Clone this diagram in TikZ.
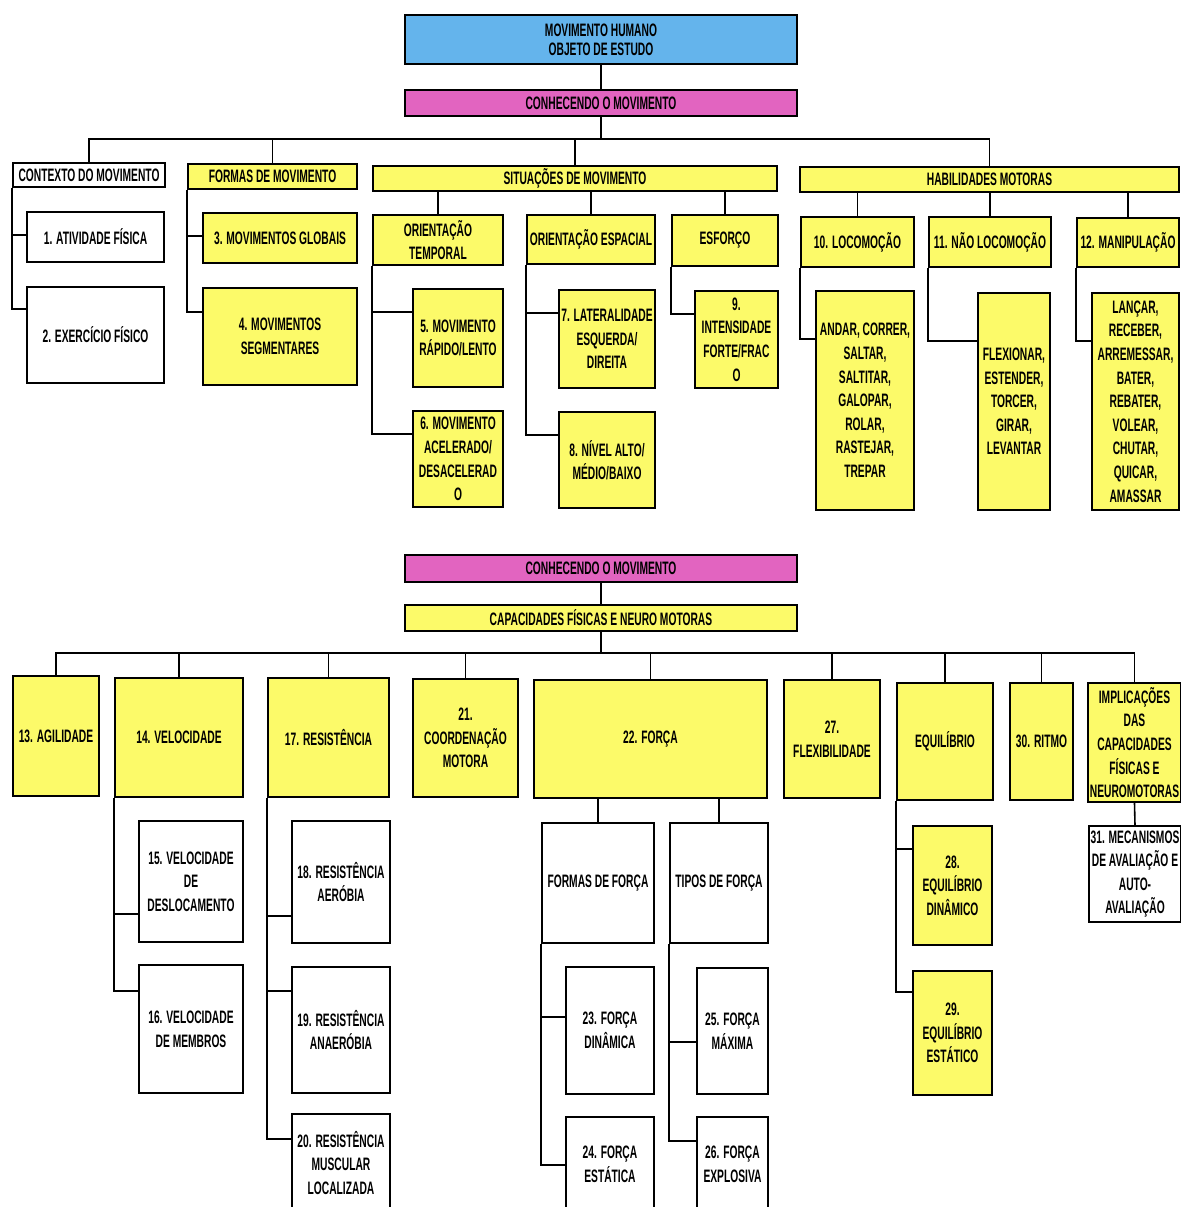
\documentclass[tikz,border=0pt]{standalone}
\usepackage{fontspec}
\newfontfamily\cf{Liberation Sans}[FakeStretch=0.57]
\definecolor{ylw}{RGB}{252,250,105}
\definecolor{blu}{RGB}{100,180,236}
\definecolor{pnk}{RGB}{226,100,192}
\tikzset{
  nodebox/.style={draw, line width=1pt, align=center, inner sep=1pt,
    font=\cf\bfseries\fontsize{9}{11.8}\selectfont},
  yb/.style={nodebox, fill=ylw},
  wb/.style={nodebox, fill=white},
  bb/.style={nodebox, fill=blu, font=\cf\bfseries\fontsize{9}{9.5}\selectfont},
  pb/.style={nodebox, fill=pnk},
  ln/.style={line width=0.8pt}
}
\newcommand\nbox[7]{\node[#6, minimum width={(#4-#2)*0.5pt}, minimum height={(#5-#3)*0.5pt}] (#1) at ({(#2+#4)/2},{(#3+#5)/2}) {#7};}
\newcommand\linkto[3]{\draw[ln] (#1.south west) |- ([yshift=-#3*0.5pt]#2.north west);}
\begin{document}
\begin{tikzpicture}[x=0.5pt,y=-0.5pt]
\useasboundingbox (0,0) rectangle (1181,1207);
\fill[white] (0,0) rectangle (1181,1207);
% ---------- top part ----------
\nbox{blue}{405}{15}{797}{64}{bb}{MOVIMENTO HUMANO\\OBJETO DE ESTUDO}
\nbox{pink1}{405}{90}{797}{116}{pb}{CONHECENDO O MOVIMENTO}
\nbox{ctx}{13}{163}{165}{187}{wb}{CONTEXTO DO MOVIMENTO}
\nbox{forms}{188}{164}{357}{189}{yb}{FORMAS DE MOVIMENTO}
\nbox{sit}{373}{166}{777}{191}{yb}{SITUAÇÕES DE MOVIMENTO}
\nbox{hab}{800}{167}{1179}{192}{yb}{HABILIDADES MOTORAS}
\nbox{b1}{27}{212}{164}{262}{wb}{1. ATIVIDADE FÍSICA}
\nbox{b2}{27}{287}{164}{383}{wb}{2. EXERCÍCIO FÍSICO}
\nbox{b3}{203}{213}{357}{263}{yb}{3. MOVIMENTOS GLOBAIS}
\nbox{b4}{203}{288}{357}{385}{yb}{4. MOVIMENTOS\\SEGMENTARES}
\nbox{ot}{373}{215}{503}{265}{yb}{ORIENTAÇÃO\\TEMPORAL}
\nbox{oe}{527}{215}{655}{264}{yb}{ORIENTAÇÃO ESPACIAL}
\nbox{esf}{672}{215}{778}{266}{yb}{ESFORÇO}
\nbox{b5}{413}{289}{503}{387}{yb}{5. MOVIMENTO\\RÁPIDO/LENTO}
\nbox{b6}{413}{411}{503}{507}{yb}{6. MOVIMENTO\\ACELERADO/\\DESACELERAD\\O}
\nbox{b7}{559}{290}{655}{388}{yb}{7. LATERALIDADE\\ESQUERDA/\\DIREITA}
\nbox{b8}{559}{412}{655}{508}{yb}{8. NÍVEL ALTO/\\MÉDIO/BAIXO}
\nbox{b9}{695}{291}{778}{388}{yb}{9.\\INTENSIDADE\\FORTE/FRAC\\O}
\nbox{loc}{801}{217}{914}{267}{yb}{10. LOCOMOÇÃO}
\nbox{nloc}{929}{217}{1051}{267}{yb}{11. NÃO LOCOMOÇÃO}
\nbox{man}{1077}{218}{1179}{267}{yb}{12. MANIPULAÇÃO}
\nbox{lloc}{816}{291}{914}{510}{yb}{ANDAR, CORRER,\\SALTAR,\\SALTITAR,\\GALOPAR,\\ROLAR,\\RASTEJAR,\\TREPAR}
\nbox{lnloc}{978}{293}{1050}{510}{yb}{FLEXIONAR,\\ESTENDER,\\TORCER,\\GIRAR,\\LEVANTAR}
\nbox{lman}{1092}{293}{1179}{510}{yb}{LANÇAR,\\RECEBER,\\ARREMESSAR,\\BATER,\\REBATER,\\VOLEAR,\\CHUTAR,\\QUICAR,\\AMASSAR}
\coordinate (busA) at (601,139);
\draw[ln] (blue.south) -- (pink1.north);
\draw[ln] (pink1.south) -- (pink1.south |- busA);
\draw[ln] (ctx.north) |- (hab.north |- busA) -- (hab.north);
\draw[ln] (forms.north) -- (forms.north |- busA);
\draw[ln] (sit.north) -- (sit.north |- busA);
\foreach \c in {ot,oe,esf} \draw[ln] (\c.north) -- (\c.north |- sit.south);
\foreach \c in {loc,nloc,man} \draw[ln] (\c.north) -- (\c.north |- hab.south);
\linkto{ctx}{b1}{24}
\linkto{ctx}{b2}{23}
\linkto{forms}{b3}{24}
\linkto{forms}{b4}{25}
\linkto{ot}{b5}{24}
\linkto{ot}{b6}{24}
\linkto{oe}{b7}{24}
\linkto{oe}{b8}{24}
\linkto{esf}{b9}{24}
\linkto{loc}{lloc}{49}
\linkto{nloc}{lnloc}{49}
\linkto{man}{lman}{49}
% ---------- bottom part ----------
\nbox{pink2}{405}{555}{797}{582}{pb}{CONHECENDO O MOVIMENTO}
\nbox{cap}{405}{605}{797}{631}{yb}{CAPACIDADES FÍSICAS E NEURO MOTORAS}
\nbox{agi}{13}{676}{99}{796}{yb}{13. AGILIDADE}
\nbox{vel}{115}{678}{243}{797}{yb}{14. VELOCIDADE}
\nbox{res}{268}{678}{389}{797}{yb}{17. RESISTÊNCIA}
\nbox{coo}{413}{679}{518}{797}{yb}{21.\\COORDENAÇÃO\\MOTORA}
\nbox{for}{534}{680}{767}{798}{yb}{22. FORÇA}
\nbox{flx}{784}{680}{880}{798}{yb}{27.\\FLEXIBILIDADE}
\nbox{equ}{897}{683}{993}{800}{yb}{EQUILÍBRIO}
\nbox{rit}{1010}{683}{1073}{800}{yb}{30. RITMO}
\nbox{imp}{1089}{683}{1180}{802}{yb}{IMPLICAÇÕES\\DAS\\CAPACIDADES\\FÍSICAS E\\NEUROMOTORAS}
\nbox{b15}{139}{821}{243}{942}{wb}{15. VELOCIDADE\\DE\\DESLOCAMENTO}
\nbox{b16}{139}{965}{243}{1093}{wb}{16. VELOCIDADE\\DE MEMBROS}
\nbox{b18}{292}{821}{390}{943}{wb}{18. RESISTÊNCIA\\AERÓBIA}
\nbox{b19}{292}{967}{390}{1093}{wb}{19. RESISTÊNCIA\\ANAERÓBIA}
\nbox{b20}{292}{1114}{390}{1212}{wb}{20. RESISTÊNCIA\\MUSCULAR\\LOCALIZADA}
\nbox{fdf}{542}{823}{654}{943}{wb}{FORMAS DE FORÇA}
\nbox{tdf}{670}{823}{768}{943}{wb}{TIPOS DE FORÇA}
\nbox{b23}{566}{967}{654}{1094}{wb}{23. FORÇA\\DINÂMICA}
\nbox{b24}{566}{1117}{654}{1212}{wb}{24. FORÇA\\ESTÁTICA}
\nbox{b25}{697}{968}{768}{1094}{wb}{25. FORÇA\\MÁXIMA}
\nbox{b26}{697}{1117}{768}{1212}{wb}{26. FORÇA\\EXPLOSIVA}
\nbox{b28}{913}{826}{992}{945}{yb}{28.\\EQUILÍBRIO\\DINÂMICO}
\nbox{b29}{913}{971}{992}{1095}{yb}{29.\\EQUILÍBRIO\\ESTÁTICO}
\nbox{b31}{1090}{826}{1180}{922}{wb}{31. MECANISMOS\\DE AVALIAÇÃO E\\AUTO-\\AVALIAÇÃO}
\coordinate (busB) at (600,653);
\draw[ln] (pink2.south) -- (cap.north);
\draw[ln] (cap.south) -- (cap.south |- busB);
\draw[ln] (agi.north) |- (imp.north |- busB) -- (imp.north);
\foreach \c in {vel,res,coo,for,flx,equ,rit} \draw[ln] (\c.north) -- (\c.north |- busB);
\foreach \c in {fdf,tdf} \draw[ln] (\c.north) -- (\c.north |- for.south);
\draw[ln] (imp.south) -- (b31.north);
\linkto{vel}{b15}{94}
\linkto{vel}{b16}{27}
\linkto{res}{b18}{96}
\linkto{res}{b19}{25}
\linkto{res}{b20}{26}
\linkto{fdf}{b23}{51}
\linkto{fdf}{b24}{49}
\linkto{tdf}{b25}{75}
\linkto{tdf}{b26}{25}
\linkto{equ}{b28}{24}
\linkto{equ}{b29}{22}
\end{tikzpicture}
\end{document}
